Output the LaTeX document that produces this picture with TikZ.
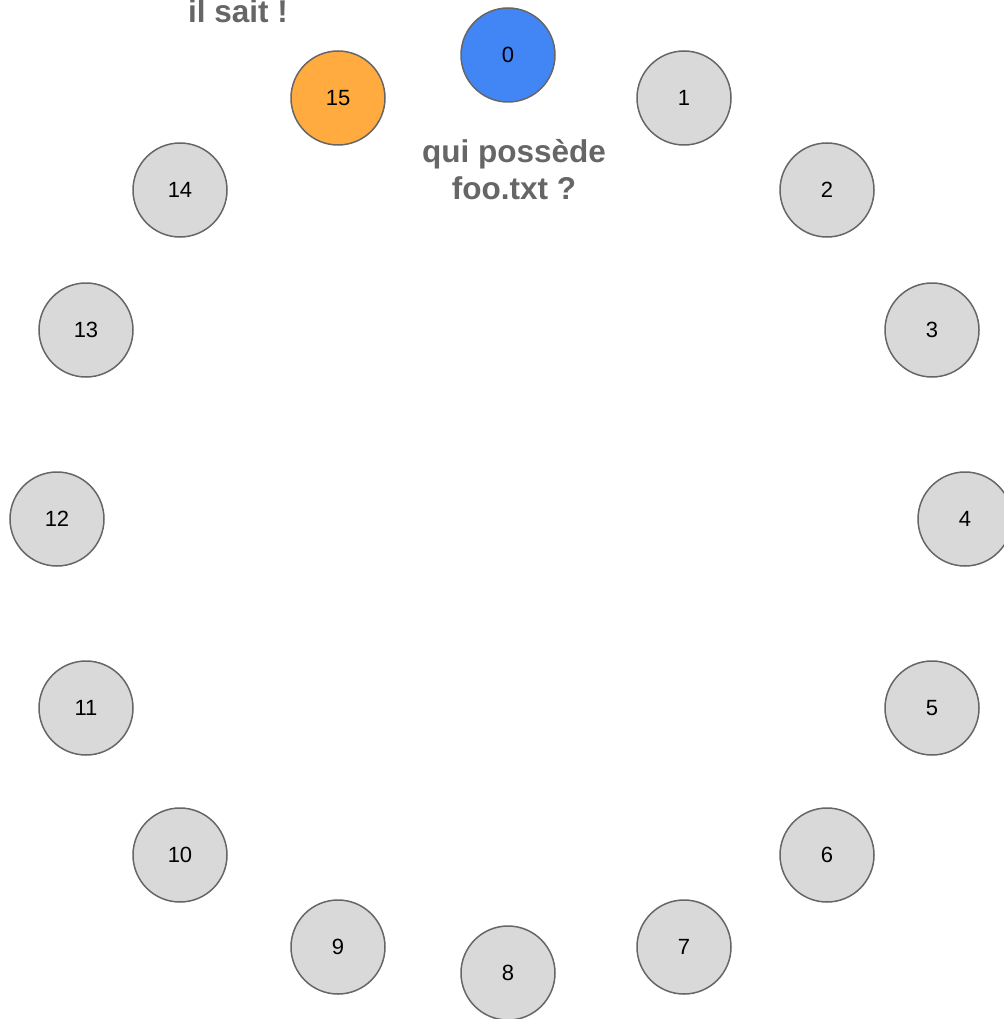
\documentclass[tikz,border=0pt]{standalone}
\usepackage{fontspec}
\setmainfont{Liberation Sans}
\usetikzlibrary{positioning}
\definecolor{peergray}{HTML}{D9D9D9}
\definecolor{edgegray}{HTML}{666666}
\definecolor{askblue}{HTML}{4285F4}
\definecolor{knoworange}{HTML}{FFAB40}

\begin{document}
\begin{tikzpicture}[x=1pt, y=-1pt,
    peer/.style={draw=edgegray, line width=1.5pt, circle, fill=peergray, minimum size=94pt, inner sep=0pt, font=\fontsize{22}{26}\selectfont},
    remark/.style={text=edgegray, align=center, anchor=base, font=\fontsize{31.5}{36}\selectfont\bfseries}]
    \useasboundingbox (0,0) rectangle (1003,1019);

    % the ring of peers
    \foreach \i/\x/\y in {1/684/98, 2/827/190, 3/932/330, 4/965/519, 5/932/708,
                          6/827/855, 7/684/947, 8/508/973, 9/338/947, 10/180/855,
                          11/86/708, 12/57/519, 13/86/330, 14/180/190} {
        \node[peer] (n\i) at (\x, \y) {\i};
    }
    \node[peer, fill=askblue] (n0) at (508, 55) {0};
    \node[peer, fill=knoworange] (n15) at (338, 98) {15};

    % who asks, who knows
    \node[remark] (ask) at (514, 199) {qui possède\\foo.txt ?};
    \node[remark] (know) at (238, 23) {il sait !};
\end{tikzpicture}
\end{document}
